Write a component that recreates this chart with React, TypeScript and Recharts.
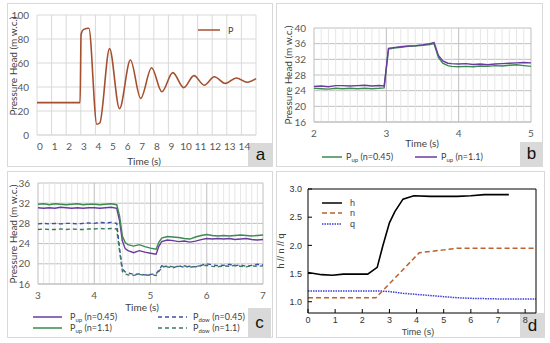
import React from "react";
import { LineChart, Line, XAxis, YAxis, CartesianGrid, ReferenceLine } from "recharts";

const FONT = "Lato, 'Liberation Sans', sans-serif";

// panel a: pressure head after closure
const aTime = [0, 1, 2, 2.95, 3.02, 3.2, 3.55, 4.1, 4.3, 4.97, 5.65, 6.4, 7.1, 7.85, 8.55, 9.3, 10.05, 10.75, 11.45, 12.15, 12.9, 13.65, 14.4, 15];
const aP = [27, 27, 27, 27, 84, 88, 89, 9, 10, 72, 22, 62.5, 30.5, 56, 36, 52, 39.5, 49.5, 41.5, 48.5, 43, 47.5, 44, 47];
const aTicksX = [0, 1, 2, 3, 4, 5, 6, 7, 8, 9, 10, 11, 12, 13, 14, 15];
const aTicksY = [0, 20, 40, 60, 80, 100];

// panel b
const bTime = [2.0, 2.1, 2.2, 2.3, 2.4, 2.5, 2.6, 2.7, 2.8, 2.9, 2.97, 3.03, 3.1, 3.2, 3.3, 3.4, 3.5, 3.6, 3.66, 3.72, 3.78, 3.85, 3.9, 4.0, 4.1, 4.2, 4.3, 4.4, 4.5, 4.6, 4.7, 4.8, 4.9, 5.0];
const bUp045 = [24.6, 24.5, 24.4, 24.6, 24.5, 24.6, 24.5, 24.6, 24.5, 24.6, 24.7, 34.6, 34.9, 35.1, 35.3, 35.4, 35.6, 35.8, 36.0, 32.5, 31.0, 30.4, 30.2, 30.1, 30.2, 30.1, 30.3, 30.2, 30.4, 30.3, 30.5, 30.6, 30.4, 30.2];
const bUp11 = [25.1, 25.2, 25.0, 25.3, 25.3, 25.2, 25.3, 25.4, 25.2, 25.3, 25.2, 34.8, 35.0, 35.2, 35.4, 35.5, 35.7, 36.0, 36.3, 33.0, 31.6, 31.0, 30.9, 30.8, 30.9, 30.7, 30.8, 30.6, 30.8, 30.9, 31.0, 31.1, 31.2, 31.1];
const bTicksX = [2, 3, 4, 5];
const bTicksY = [16, 20, 24, 28, 32, 36, 40];

// panel c
const cTime = [3.0, 3.1, 3.2, 3.3, 3.4, 3.5, 3.6, 3.7, 3.8, 3.9, 4.0, 4.1, 4.2, 4.3, 4.4, 4.45, 4.5, 4.55, 4.6, 4.7, 4.8, 4.9, 5.0, 5.1, 5.15, 5.2, 5.3, 5.4, 5.5, 5.6, 5.7, 5.8, 5.9, 6.0, 6.1, 6.2, 6.3, 6.4, 6.5, 6.6, 6.7, 6.8, 6.9, 7.0];
const cUp045 = [31.1, 31.0, 31.1, 31.0, 31.2, 31.1, 31.0, 31.1, 31.0, 31.1, 31.1, 31.0, 31.1, 31.2, 31.0, 28.5, 24.5, 23.0, 22.6, 22.2, 22.6, 22.3, 22.1, 21.9, 23.5, 24.4, 24.7, 24.6, 24.4, 24.5, 24.3, 24.5, 24.8, 25.0, 24.9, 25.0, 24.9, 25.0, 24.8, 24.9, 25.0, 24.8, 24.7, 24.8];
const cUp11 = [31.8, 31.9, 31.7, 31.9, 31.8, 31.7, 31.8, 31.9, 31.7, 31.8, 31.8, 31.7, 31.8, 31.9, 31.7, 29.5, 25.5, 24.2, 23.8, 23.5, 23.8, 23.4, 23.1, 22.9, 24.3, 25.1, 25.4, 25.3, 25.2, 25.0, 24.9, 25.3, 25.6, 25.8, 25.6, 25.5, 25.6, 25.5, 25.6, 25.7, 25.6, 25.5, 25.6, 25.7];
const cDow045 = [27.9, 28.0, 27.9, 28.0, 27.9, 28.0, 28.0, 27.9, 28.0, 28.1, 28.0, 28.2, 28.1, 28.2, 28.0, 23.0, 19.0, 18.4, 18.2, 17.9, 18.0, 17.8, 17.9, 18.0, 18.8, 19.6, 19.4, 19.2, 19.6, 19.3, 19.5, 19.4, 19.7, 20.0, 19.8, 19.6, 19.7, 19.9, 19.6, 19.8, 19.5, 19.7, 19.9, 19.8];
const cDow11 = [26.8, 26.9, 26.8, 26.8, 26.9, 26.8, 26.9, 26.8, 26.8, 26.9, 26.9, 27.0, 26.9, 27.0, 26.9, 22.5, 18.5, 18.0, 17.8, 17.7, 17.9, 17.7, 17.8, 17.7, 18.5, 19.3, 19.6, 19.4, 19.5, 19.6, 19.3, 19.5, 19.6, 19.7, 19.5, 19.4, 19.6, 19.5, 19.7, 19.5, 19.4, 19.6, 19.5, 19.6];
const cTicksX = [3, 4, 5, 6, 7];
const cTicksY = [16, 20, 24, 28, 32, 36];

// panel d
const dHTime = [0, 0.5, 0.9, 1.3, 1.8, 2.2, 2.55, 2.75, 3.0, 3.2, 3.5, 3.9, 4.5, 5.0, 5.5, 6.0, 6.5, 7.0, 7.4];
const dH = [1.52, 1.48, 1.47, 1.49, 1.49, 1.49, 1.61, 1.98, 2.4, 2.6, 2.82, 2.88, 2.87, 2.87, 2.87, 2.88, 2.9, 2.9, 2.9];
const dNTime = [0, 2.5, 4.1, 5.0, 5.5, 8.4];
const dN = [1.07, 1.07, 1.87, 1.92, 1.95, 1.95];
const dQTime = [0, 2.7, 3.0, 3.5, 4.0, 4.5, 5.0, 5.5, 6.0, 7.0, 8.4];
const dQ = [1.19, 1.19, 1.18, 1.15, 1.13, 1.11, 1.09, 1.07, 1.06, 1.05, 1.05];
const dTicksX = [0, 1, 2, 3, 4, 5, 6, 7, 8];
const dTicksY = [1.0, 1.5, 2.0, 2.5, 3.0];

const aData = aTime.map((t, i) => ({ t, p: aP[i] }));
const bData = bTime.map((t, i) => ({ t, a: bUp045[i], b: bUp11[i] }));
const cData = cTime.map((t, i) => ({ t, ua: cUp045[i], ub: cUp11[i], da: cDow045[i], db: cDow11[i] }));
const dHData = dHTime.map((t, i) => ({ t, v: dH[i] }));
const dNData = dNTime.map((t, i) => ({ t, v: dN[i] }));
const dQData = dQTime.map((t, i) => ({ t, v: dQ[i] }));

// minor gridlines every 0.1 s
const bMinor = Array.from({ length: 31 }, (_, i) => +(2 + i / 10).toFixed(1)).filter((v) => v % 1 !== 0);
const cMinor = Array.from({ length: 41 }, (_, i) => +(3 + i / 10).toFixed(1)).filter((v) => v % 1 !== 0);

const C = {
  p: "#a4502f",
  green: "#3b8a4f",
  purple: "#6a3aa0",
  blueDash: "#3f4fa6",
  greenDash: "#3a7a5c",
  n: "#b8622e",
  q: "#3b3bd9",
};

const tickStyle = { fontSize: 10, fill: "#595959", fontFamily: FONT };

function Frame({ l, t, r, b }: { l: number; t: number; r: number; b: number }) {
  return <div style={{ position: "absolute", left: l, top: t, width: r - l, height: b - t, border: "1px solid #d9d9d9", boxSizing: "border-box" }} />;
}

function Tag({ l, t, r, b, text }: { l: number; t: number; r: number; b: number; text: string }) {
  return (
    <div style={{ position: "absolute", left: l, top: t, width: r - l, height: b - t, background: "#d9d9d9", display: "flex", alignItems: "center", justifyContent: "center", fontSize: 17, fontFamily: "'Liberation Sans', sans-serif", color: "#111" }}>
      {text}
    </div>
  );
}

function Title({ x, y, text, rotate, size = 10, font = FONT }: { x: number; y: number; text: string; rotate?: boolean; size?: number; font?: string }) {
  return (
    <div style={{ position: "absolute", left: x, top: y, transform: `translate(-50%, -50%)${rotate ? " rotate(-90deg)" : ""}`, whiteSpace: "nowrap", fontSize: size, fontFamily: font, color: "#404040" }}>
      {text}
    </div>
  );
}

function Key({ x, y, w, color, dash, width = 1.5, children, gap = 4, size = 9, font = FONT }: { x: number; y: number; w: number; color: string; dash?: string; width?: number; children: React.ReactNode; gap?: number; size?: number; font?: string }) {
  return (
    <div style={{ position: "absolute", left: x, top: y - 7, height: 14, display: "flex", alignItems: "center", whiteSpace: "nowrap", fontSize: size, fontFamily: font, color: "#404040" }}>
      <svg width={w} height={4} style={{ display: "block" }}>
        <line x1={0} y1={2} x2={w} y2={2} stroke={color} strokeWidth={width} strokeDasharray={dash} />
      </svg>
      <span style={{ marginLeft: gap }}>{children}</span>
    </div>
  );
}

const sub = (s: string) => <sub style={{ fontSize: 6, verticalAlign: "-2px" }}>{s}</sub>;

function Pos({ l, t, children }: { l: number; t: number; children: React.ReactNode }) {
  return <div style={{ position: "absolute", left: l, top: t }}>{children}</div>;
}

export default function App() {
  return (
    <div style={{ position: "absolute", left: 0, top: 0, width: 550, height: 343, background: "#fff", overflow: "hidden", fontFamily: FONT }}>
      <Frame l={7} t={3} r={273} b={167} />
      <Frame l={276} t={3} r={543} b={167} />
      <Frame l={7} t={171} r={273} b={338} />
      <Frame l={276} t={171} r={545} b={338} />
      <Tag l={248} t={143} r={273} b={167} text="a" />
      <Tag l={520} t={142} r={543} b={166} text="b" />
      <Tag l={248} t={308} r={271} b={337} text="c" />
      <Tag l={520} t={313} r={545} b={338} text="d" />

      {/* a */}
      <Pos l={0} t={0}>
        <LineChart width={275} height={171} data={aData} margin={{ top: 15, right: 19, left: 7, bottom: 16 }}>
          <CartesianGrid stroke="#d9d9d9" />
          <XAxis dataKey="t" type="number" domain={[0, 15]} ticks={aTicksX} interval={0} height={20}
            tickFormatter={(v) => (v === 15 ? "" : String(v))} axisLine={{ stroke: "#d9d9d9" }} tickLine={false} tick={{ ...tickStyle, dx: 3 }} />
          <YAxis type="number" domain={[0, 100]} ticks={aTicksY} interval={0} width={30} axisLine={false} tickLine={false} tick={tickStyle} />
          <Line dataKey="p" type="monotone" stroke={C.p} strokeWidth={1.6} dot={false} isAnimationActive={false} />
        </LineChart>
      </Pos>
      <Title x={13} y={66} text="Pressure Head (m w.c.)" rotate size={10} />
      <Title x={144} y={161} text="Time (s)" />
      <Key x={198} y={30} w={22} color={C.p} gap={8} size={9}>P</Key>

      {/* b */}
      <Pos l={275} t={0}>
        <LineChart width={275} height={171} data={bData} margin={{ top: 28, right: 19, left: 9, bottom: 29 }}>
          {bMinor.map((v) => (
            <ReferenceLine key={v} x={v} stroke="#e6e6e6" />
          ))}
          <CartesianGrid stroke="#bfbfbf" />
          <XAxis dataKey="t" type="number" domain={[2, 5]} ticks={bTicksX} interval={0} height={20} axisLine={{ stroke: "#bfbfbf" }} tickLine={false} tick={tickStyle} />
          <YAxis type="number" domain={[16, 40]} ticks={bTicksY} interval={0} width={30} axisLine={false} tickLine={false} tick={tickStyle} />
          <Line dataKey="a" stroke={C.green} strokeWidth={1.4} dot={false} isAnimationActive={false} />
          <Line dataKey="b" stroke={C.purple} strokeWidth={1.4} dot={false} isAnimationActive={false} />
        </LineChart>
      </Pos>
      <Title x={288} y={75} text="Pressure Head (m w.c.)" rotate size={10} />
      <Title x={422} y={143} text="Time (s)" />
      <Key x={322} y={157} w={20} color={C.green}>P{sub("up")} (n=0.45)</Key>
      <Key x={415} y={157} w={22} color={C.purple}>P{sub("up")} (n=1.1)</Key>

      {/* c */}
      <Pos l={0} t={171}>
        <LineChart width={275} height={167} data={cData} margin={{ top: 12, right: 12, left: 8, bottom: 34 }}>
          {cMinor.map((v) => (
            <ReferenceLine key={v} x={v} stroke="#e6e6e6" />
          ))}
          <CartesianGrid stroke="#bfbfbf" />
          <XAxis dataKey="t" type="number" domain={[3, 7]} ticks={cTicksX} interval={0} height={20} axisLine={{ stroke: "#bfbfbf" }} tickLine={false} tick={tickStyle} />
          <YAxis type="number" domain={[16, 36]} ticks={cTicksY} interval={0} width={30} axisLine={false} tickLine={false} tick={tickStyle} />
          <Line dataKey="da" stroke={C.blueDash} strokeWidth={1.4} strokeDasharray="4 3" dot={false} isAnimationActive={false} />
          <Line dataKey="db" stroke={C.greenDash} strokeWidth={1.4} strokeDasharray="4 3" dot={false} isAnimationActive={false} />
          <Line dataKey="ua" stroke={C.purple} strokeWidth={1.4} dot={false} isAnimationActive={false} />
          <Line dataKey="ub" stroke={C.green} strokeWidth={1.4} dot={false} isAnimationActive={false} />
        </LineChart>
      </Pos>
      <Title x={13} y={234} text="Pressure Head (m w.c.)" rotate size={10} />
      <Title x={142} y={307} text="Time (s)" />
      <Key x={33} y={317} w={29} color={C.purple} gap={8}>P{sub("up")} (n=0.45)</Key>
      <Key x={33} y={328} w={29} color={C.green} gap={8}>P{sub("up")} (n=1.1)</Key>
      <Key x={158} y={317} w={29} color={C.blueDash} dash="4 3" gap={6}>P{sub("dow")} (n=0.45)</Key>
      <Key x={158} y={328} w={29} color={C.greenDash} dash="4 3" gap={6}>P{sub("dow")} (n=1.1)</Key>

      {/* d */}
      <Pos l={275} t={171}>
        <LineChart width={275} height={167} margin={{ top: 17, right: 13, left: 0, bottom: 13 }}>
          <XAxis xAxisId="b" dataKey="t" type="number" domain={[0, 8.4]} ticks={dTicksX} interval={0} height={12} allowDataOverflow
            stroke="#000" tickSize={-4} tickMargin={8} tick={{ fontSize: 9, fill: "#333", fontFamily: "'Liberation Sans', sans-serif" }} />
          <XAxis xAxisId="t" orientation="top" dataKey="t" type="number" domain={[0, 8.4]} ticks={dTicksX} interval={0} height={1} allowDataOverflow
            stroke="#000" tickSize={-4} tick={false} />
          <YAxis yAxisId="l" type="number" domain={[0.8, 3]} ticks={dTicksY} interval={0} width={33} allowDataOverflow
            stroke="#000" tickSize={-4} tickMargin={10} tickFormatter={(v) => Number(v).toFixed(1)} tick={{ fontSize: 9, fill: "#333", fontFamily: "'Liberation Sans', sans-serif" }} />
          <YAxis yAxisId="r" orientation="right" type="number" domain={[0.8, 3]} ticks={dTicksY} interval={0} width={1} allowDataOverflow
            stroke="#000" tickSize={-4} tick={false} />
          <Line data={dQData} xAxisId="b" yAxisId="l" dataKey="v" stroke={C.q} strokeWidth={1.5} strokeDasharray="1.5 1" dot={false} isAnimationActive={false} />
          <Line data={dNData} xAxisId="b" yAxisId="l" dataKey="v" stroke={C.n} strokeWidth={1.5} strokeDasharray="5 3" dot={false} isAnimationActive={false} />
          <Line data={dHData} xAxisId="b" yAxisId="l" dataKey="v" stroke="#000" strokeWidth={1.6} dot={false} isAnimationActive={false} />
        </LineChart>
      </Pos>
      <Title x={281} y={251} text="h // n // q" rotate size={9} font="'Liberation Sans', sans-serif" />
      <Title x={418} y={332} text="Time (s)" size={9} font="'Liberation Sans', sans-serif" />
      <Key x={322} y={203} w={20} color="#000" gap={8} font="'Liberation Sans', sans-serif">h</Key>
      <Key x={322} y={213} w={20} color={C.n} dash="5 3" gap={8} font="'Liberation Sans', sans-serif">n</Key>
      <Key x={322} y={224} w={20} color={C.q} dash="1.5 1" gap={8} font="'Liberation Sans', sans-serif">q</Key>
    </div>
  );
}
